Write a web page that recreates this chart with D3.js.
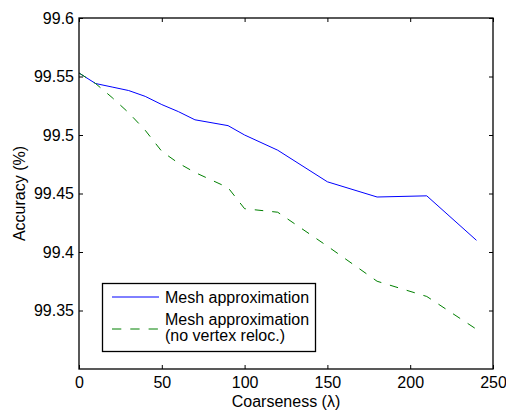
<!DOCTYPE html>
<html><head><meta charset="utf-8">
<script src="https://cdn.jsdelivr.net/npm/d3@7"></script>
<style>body{margin:0;background:#fff}svg{display:block}text{font-family:"Liberation Sans",Arial,sans-serif}</style>
</head><body>
<script>
const xValues = [0, 10, 20, 30, 40, 50, 60, 70, 90, 100, 120, 150, 180, 210, 240];
const meshApprox = [99.553, 99.544, 99.541, 99.538, 99.533, 99.526, 99.520, 99.513, 99.508, 99.500, 99.487, 99.460, 99.447, 99.448, 99.410];
const meshNoReloc = [99.553, 99.544, 99.532, 99.519, 99.504, 99.486, 99.476, 99.468, 99.455, 99.437, 99.434, 99.405, 99.375, 99.362, 99.334];
const xTicks = [0, 50, 100, 150, 200, 250];
const yTicks = [99.35, 99.4, 99.45, 99.5, 99.55, 99.6];
const seriesNames = ["Mesh approximation", ["Mesh approximation", "(no vertex reloc.)"]];

const W = 506, H = 410;
const m = {l: 79, r: 493, t: 18, b: 369};
const svg = d3.select("body").append("svg").attr("width", W).attr("height", H);
const x = d3.scaleLinear().domain([0, 250]).range([m.l, m.r]);
const y = d3.scaleLinear().domain([99.3, 99.6]).range([m.b, m.t]);
const fs = 16;

// data lines
const line = d3.line().x((d, i) => x(xValues[i])).y(d => y(d));
svg.append("path").datum(meshApprox).attr("d", line)
  .attr("fill", "none").attr("stroke", "#0000ff").attr("stroke-width", 1);
svg.append("path").datum(meshNoReloc).attr("d", line)
  .attr("fill", "none").attr("stroke", "#008000").attr("stroke-width", 1)
  .attr("stroke-dasharray", "8.5,9");

// box
svg.append("rect").attr("x", m.l).attr("y", m.t).attr("width", m.r - m.l).attr("height", m.b - m.t)
  .attr("fill", "none").attr("stroke", "#000").attr("stroke-width", 1.3);

// axes with inward ticks
const tk = 4;
const gx = svg.append("g").attr("transform", `translate(0,${m.b})`)
  .call(d3.axisBottom(x).tickValues(xTicks).tickSize(-tk).tickPadding(8).tickFormat(d3.format("d")));
const gxt = svg.append("g").attr("transform", `translate(0,${m.t})`)
  .call(d3.axisTop(x).tickValues(xTicks).tickSize(-tk).tickFormat(""));
const gy = svg.append("g").attr("transform", `translate(${m.l},0)`)
  .call(d3.axisLeft(y).tickValues(yTicks).tickSize(-tk).tickPadding(5).tickFormat(d => String(+d.toFixed(2))));
const gyr = svg.append("g").attr("transform", `translate(${m.r},0)`)
  .call(d3.axisRight(y).tickValues(yTicks).tickSize(-tk).tickFormat(""));
[gx, gxt, gy, gyr].forEach(g => {
  g.select(".domain").remove();
  g.selectAll(".tick line").attr("stroke", "#000").attr("stroke-width", 1);
  g.selectAll("text").attr("font-size", fs).attr("fill", "#000")
    .style("font-family", '"Liberation Sans",Arial,sans-serif');
});

// axis labels
svg.append("text").attr("x", (m.l + m.r) / 2).attr("y", 407).attr("text-anchor", "middle")
  .attr("font-size", fs).text("Coarseness (λ)");
svg.append("text").attr("transform", `translate(25,${(m.t + m.b) / 2}) rotate(-90)`)
  .attr("text-anchor", "middle").attr("font-size", fs).text("Accuracy (%)");

// legend
const lg = svg.append("g");
lg.append("rect").attr("x", 102.5).attr("y", 283.5).attr("width", 213).attr("height", 68)
  .attr("fill", "#fff").attr("stroke", "#000").attr("stroke-width", 1.3);
lg.append("line").attr("x1", 112).attr("x2", 159).attr("y1", 297).attr("y2", 297)
  .attr("stroke", "#0000ff").attr("stroke-width", 1);
lg.append("line").attr("x1", 112).attr("x2", 160).attr("y1", 329).attr("y2", 329)
  .attr("stroke", "#008000").attr("stroke-width", 1).attr("stroke-dasharray", "9.3,9");
lg.append("text").attr("x", 165).attr("y", 303).attr("font-size", fs).text(seriesNames[0]);
lg.append("text").attr("x", 165).attr("y", 325).attr("font-size", fs).text(seriesNames[1][0]);
lg.append("text").attr("x", 165).attr("y", 341).attr("font-size", fs).text(seriesNames[1][1]);
</script>
</body></html>
